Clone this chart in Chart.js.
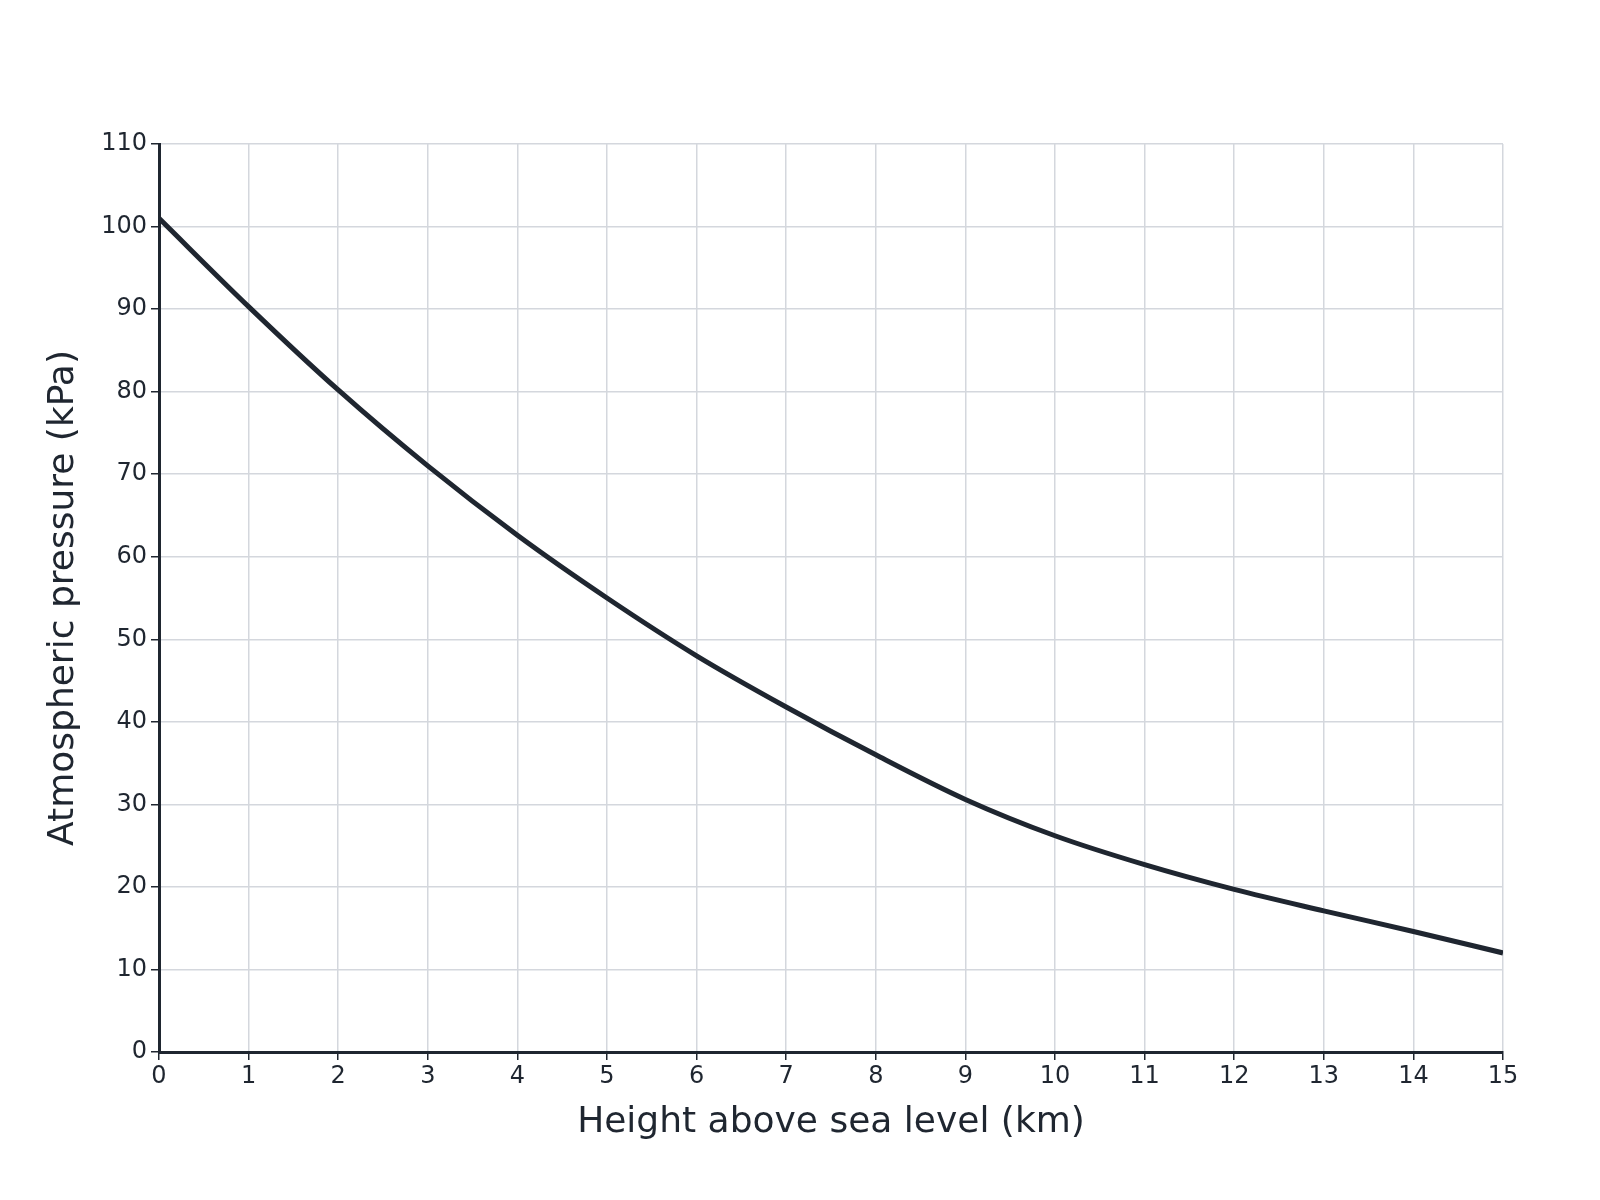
<!DOCTYPE html>
<html><head><meta charset="utf-8">
<script src="https://cdn.jsdelivr.net/npm/chart.js@4"></script>
<style>html,body{margin:0;padding:0;background:#fff}#w{width:1600px;height:1200px}</style>
</head><body><div id="w"><canvas id="c"></canvas></div>
<script>
const heights = [0,1,2,3,4,5,6,7,8,9,10,11,12,13,14,15];
const pressures = [101,90.3,80.2,71,62.6,55,48,41.8,36,30.6,26.2,22.7,19.7,17.1,14.6,12];
const xTitle = 'Height above sea level (km)';
const yTitle = 'Atmospheric pressure (kPa)';
const ink = '#1f2630';
Chart.defaults.font.family = 'DejaVu Sans';
new Chart(document.getElementById('c'), {
  type: 'line',
  data: { datasets: [{ data: heights.map((h,i)=>({x:h,y:pressures[i]})), borderColor: ink, borderWidth: 5, pointRadius: 0, cubicInterpolationMode: 'monotone', fill: false }] },
  options: {
    responsive: true, maintainAspectRatio: false, animation: false,
    layout: { padding: { top: 144, right: 97, bottom: 52, left: 38 } },
    plugins: { legend: { display: false }, tooltip: { enabled: false } },
    scales: {
      x: { type: 'linear', min: 0, max: 15,
        ticks: { stepSize: 1, color: ink, font: { size: 24 }, padding: 2, maxRotation: 0 },
        grid: { color: '#d4d7dd', lineWidth: 1.5, tickLength: 8, tickColor: ink },
        border: { color: ink, width: 3 },
        title: { display: true, text: xTitle, color: ink, font: { size: 36 }, padding: { top: 8 } } },
      y: { min: 0, max: 110,
        ticks: { stepSize: 10, color: ink, font: { size: 24 }, padding: 4 },
        grid: { color: '#d4d7dd', lineWidth: 1.5, tickLength: 8, tickColor: ink },
        border: { color: ink, width: 3 },
        title: { display: true, text: yTitle, color: ink, font: { size: 36 }, padding: { bottom: 12 } } }
    }
  }
});
</script></body></html>
